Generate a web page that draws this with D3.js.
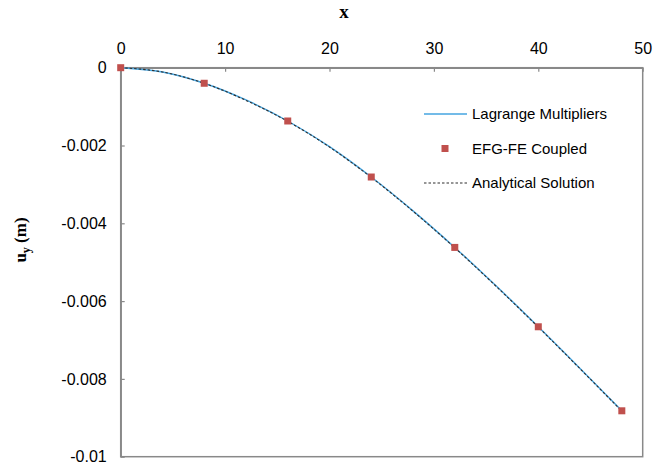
<!DOCTYPE html>
<html>
<head>
<meta charset="utf-8">
<script src="https://cdn.jsdelivr.net/npm/d3@7"></script>
<style>
  body { margin: 0; background: #fff; }
  text { font-family: "Liberation Sans", Arial, sans-serif; }
</style>
</head>
<body>
<div id="chart"></div>
<script>
// values
const xLine = [0, 4, 8, 12, 16, 20, 24, 28, 32, 36, 40, 44, 48];
const lagrange = [0, -0.00011, -0.0004, -0.00083, -0.00137, -0.00203, -0.00281, -0.00368, -0.00462, -0.00562, -0.00666, -0.00773, -0.00882];
const analytical = [0, -0.00011, -0.0004, -0.00084, -0.00138, -0.00204, -0.00282, -0.00369, -0.00463, -0.00563, -0.00667, -0.00774, -0.00883];
const xNodes = [0, 8, 16, 24, 32, 40, 48];
const efgfe = [0, -0.0004, -0.00137, -0.00281, -0.00462, -0.00666, -0.00882];
const xTicks = [0, 10, 20, 30, 40, 50];
const yTicks = [0, -0.002, -0.004, -0.006, -0.008, -0.01];
const legendNames = ['Lagrange Multipliers', 'EFG-FE Coupled', 'Analytical Solution'];

const width = 653, height = 464;
const axisColor = '#898989';

const svg = d3.select('#chart')
  .append('svg')
  .attr('width', width)
  .attr('height', height);

const x = d3.scaleLinear().domain([0, 50]).range([120.7, 642.7]);
const y = d3.scaleLinear().domain([0, -0.01]).range([67.7, 456.7]);

// plot border (right + bottom)
svg.append('rect')
  .attr('x', x(0)).attr('y', y(0))
  .attr('width', x(50) - x(0)).attr('height', y(-0.01) - y(0))
  .attr('fill', 'none')
  .attr('stroke', axisColor)
  .attr('stroke-width', 1.5);

const gx = svg.append('g')
  .attr('transform', `translate(0, ${y(0)})`)
  .call(d3.axisTop(x).tickValues(xTicks).tickSizeInner(-4).tickSizeOuter(0).tickPadding(14));

const gy = svg.append('g')
  .attr('transform', `translate(${x(0)}, 0)`)
  .call(d3.axisLeft(y).tickValues(yTicks).tickFormat(d => String(d)).tickSizeInner(-4).tickSizeOuter(0).tickPadding(14));

[gx, gy].forEach(g => {
  g.select('.domain').attr('stroke', axisColor).attr('stroke-width', 1.5);
  g.selectAll('.tick line').attr('stroke', axisColor).attr('stroke-width', 1.2);
  g.selectAll('.tick text')
    .attr('fill', '#000')
    .style('font-family', '"Liberation Sans", Arial, sans-serif')
    .style('font-size', '16px');
});

// axis titles
svg.append('text')
  .attr('x', 344).attr('y', 18)
  .attr('text-anchor', 'middle')
  .style('font-family', '"Liberation Serif", "Times New Roman", serif')
  .style('font-weight', 'bold')
  .style('font-size', '19px')
  .text('x');

const yt = svg.append('text')
  .attr('transform', 'translate(26, 240) rotate(-90)')
  .attr('text-anchor', 'middle')
  .style('font-family', '"Liberation Serif", "Times New Roman", serif')
  .style('font-weight', 'bold')
  .style('font-size', '17px');
yt.append('tspan').text('u');
yt.append('tspan').attr('dy', 4).style('font-size', '12px').text('y');
yt.append('tspan').attr('dy', -4).text(' (m)');

// curves
const lineGen = d3.line()
  .x(d => x(d[0]))
  .y(d => y(d[1]))
  .curve(d3.curveMonotoneX);

svg.append('path')
  .datum(xLine.map((v, i) => [v, lagrange[i]]))
  .attr('d', lineGen)
  .attr('fill', 'none')
  .attr('stroke', '#45a5e0')
  .attr('stroke-width', 1.4);

svg.append('path')
  .datum(xLine.map((v, i) => [v, analytical[i]]))
  .attr('d', lineGen)
  .attr('fill', 'none')
  .attr('stroke', '#2f2f2f')
  .attr('stroke-width', 1.1)
  .attr('stroke-dasharray', '2.5,2');

const ms = 7;
svg.selectAll('rect.node')
  .data(xNodes.map((v, i) => [v, efgfe[i]]))
  .enter().append('rect')
  .attr('class', 'node')
  .attr('x', d => x(d[0]) - ms / 2)
  .attr('y', d => y(d[1]) - ms / 2)
  .attr('width', ms)
  .attr('height', ms)
  .attr('fill', '#c0504d');

// legend
const lg = svg.append('g');
const ly = [114, 148.5, 183];
lg.append('line')
  .attr('x1', 424).attr('x2', 467).attr('y1', ly[0]).attr('y2', ly[0])
  .attr('stroke', '#45a5e0').attr('stroke-width', 1.4);
lg.append('rect')
  .attr('x', 445 - ms / 2).attr('y', ly[1] - ms / 2)
  .attr('width', ms).attr('height', ms)
  .attr('fill', '#c0504d');
lg.append('line')
  .attr('x1', 424).attr('x2', 467).attr('y1', ly[2]).attr('y2', ly[2])
  .attr('stroke', '#2f2f2f').attr('stroke-width', 1.1).attr('stroke-dasharray', '2.5,2');
lg.selectAll('text.leg')
  .data(legendNames)
  .enter().append('text')
  .attr('class', 'leg')
  .attr('x', 472)
  .attr('y', (d, i) => ly[i])
  .attr('dy', '0.35em')
  .style('font-size', '15px')
  .text(d => d);
</script>
</body>
</html>
